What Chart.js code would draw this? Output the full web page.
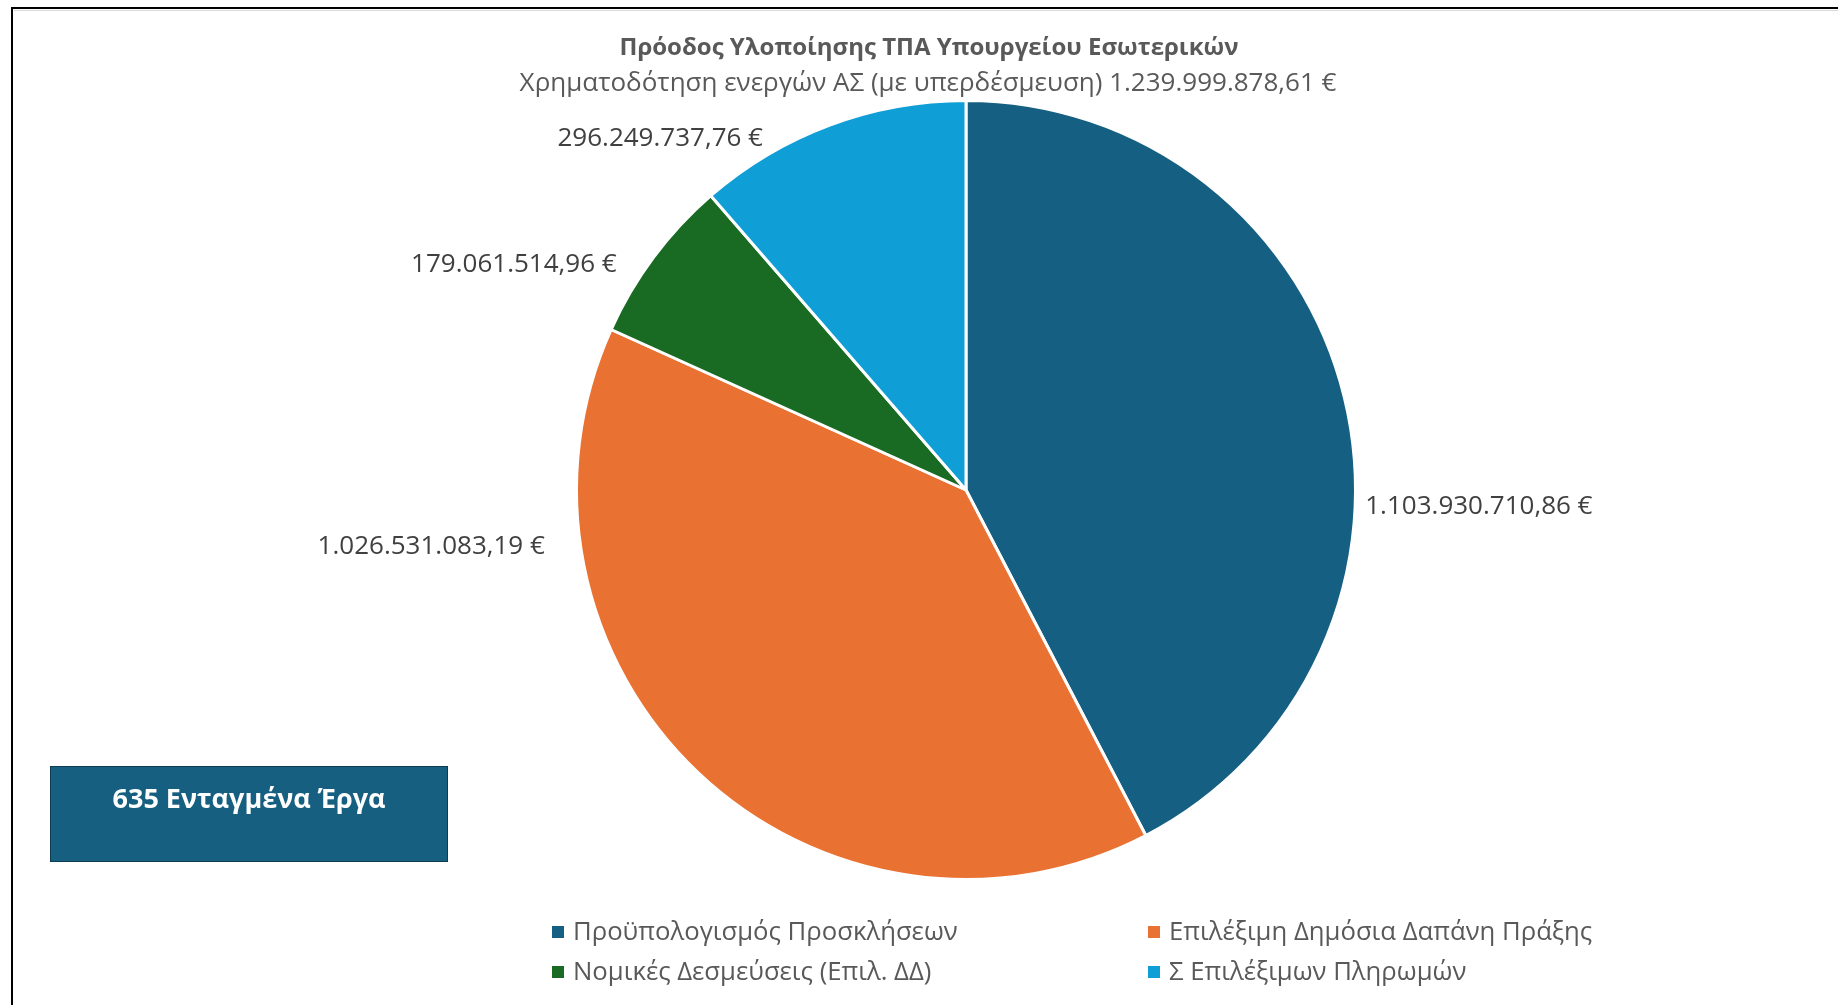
<!DOCTYPE html>
<html>
<head>
<meta charset="utf-8">
<script src="https://cdn.jsdelivr.net/npm/chart.js@4.4.1/dist/chart.umd.min.js"></script>
<style>
  html, body { margin: 0; padding: 0; background: #ffffff; overflow: hidden; }
  #wrap { position: relative; width: 1838px; height: 1005px; }
  canvas { display: block; }
</style>
</head>
<body>
<div id="wrap"><canvas id="c" width="1838" height="1005"></canvas></div>
<script>
// ---- data ----
const categories = [
  'Προϋπολογισμός Προσκλήσεων',
  'Επιλέξιμη Δημόσια Δαπάνη Πράξης',
  'Νομικές Δεσμεύσεις (Επιλ. ΔΔ)',
  'Σ Επιλέξιμων Πληρωμών'
];
const values = [1103930710.86, 1026531083.19, 179061514.96, 296249737.76];
const colors = ['#156082', '#E97132', '#196B24', '#0F9ED5'];
const titleText = 'Πρόοδος Υλοποίησης ΤΠΑ Υπουργείου Εσωτερικών';
const subtitleText = 'Χρηματοδότηση ενεργών ΑΣ (με υπερδέσμευση) 1.239.999.878,61 €';
const boxText = '635 Ενταγμένα Έργα';

function fmtEuro(v) {
  const fixed = v.toFixed(2);
  const parts = fixed.split('.');
  const intPart = parts[0].replace(/\B(?=(\d{3})+(?!\d))/g, '.');
  return intPart + ',' + parts[1] + ' €';
}

const FONT = '"Open Sans", "Noto Sans", sans-serif';

const decor = {
  id: 'decor',
  beforeDraw(chart) {
    const ctx = chart.ctx;
    ctx.save();
    ctx.fillStyle = '#ffffff';
    ctx.fillRect(0, 0, chart.width, chart.height);
    // frame (top + left)
    ctx.strokeStyle = '#000000';
    ctx.lineWidth = 2;
    ctx.beginPath();
    ctx.moveTo(12, chart.height);
    ctx.lineTo(12, 8);
    ctx.lineTo(chart.width, 8);
    ctx.stroke();
    ctx.strokeStyle = '#d9d9d9';
    ctx.lineWidth = 1;
    ctx.beginPath();
    ctx.moveTo(14, 10.5);
    ctx.lineTo(chart.width, 10.5);
    ctx.stroke();
    ctx.restore();
  },
  afterDraw(chart, args, opts) {
    const ctx = chart.ctx;
    ctx.save();
    // title & subtitle
    ctx.textAlign = 'center';
    ctx.textBaseline = 'alphabetic';
    ctx.fillStyle = '#595959';
    ctx.font = 'bold 24px ' + FONT;
    ctx.fillText(titleText, 929, 55);
    ctx.font = '26px ' + FONT;
    ctx.fillText(subtitleText, 928, 91);

    // data labels
    const meta = chart.getDatasetMeta(0);
    ctx.font = '26px ' + FONT;
    ctx.fillStyle = '#404040';
    ctx.textBaseline = 'middle';
    meta.data.forEach((arc, i) => {
      const p = opts.labels[i];
      const th = p.angle * Math.PI / 180;
      const r = arc.outerRadius + p.extra;
      const x = arc.x + r * Math.sin(th);
      const y = arc.y - r * Math.cos(th) + 3;
      ctx.textAlign = p.align;
      ctx.fillText(fmtEuro(chart.data.datasets[0].data[i]), x, y);
    });

    // legend (2x2 grid)
    ctx.font = '25.7px ' + FONT;
    ctx.textAlign = 'left';
    ctx.textBaseline = 'middle';
    categories.forEach((name, i) => {
      const col = i % 2, row = Math.floor(i / 2);
      const bx = opts.legendCols[col];
      const cy = opts.legendRows[row];
      ctx.fillStyle = colors[i];
      ctx.fillRect(bx, cy - 6, 12, 12);
      ctx.fillStyle = '#595959';
      ctx.fillText(name, bx + 21, cy + 1);
    });

    // info box
    ctx.fillStyle = '#175F80';
    ctx.fillRect(50, 766, 398, 96);
    ctx.strokeStyle = '#0E3C52';
    ctx.lineWidth = 1;
    ctx.strokeRect(50.5, 766.5, 397, 95);
    ctx.fillStyle = '#ffffff';
    ctx.font = 'bold 27px ' + FONT;
    ctx.textAlign = 'center';
    ctx.textBaseline = 'middle';
    ctx.fillText(boxText, 249, 800);
    ctx.restore();
  }
};

new Chart(document.getElementById('c'), {
  type: 'pie',
  data: {
    labels: categories,
    datasets: [{
      data: values,
      backgroundColor: colors,
      borderColor: '#ffffff',
      borderWidth: 3
    }]
  },
  options: {
    responsive: false,
    animation: false,
    layout: { padding: { left: 575, right: 481, top: 99, bottom: 124 } },
    plugins: {
      legend: { display: false },
      title: { display: false },
      tooltip: { enabled: false },
      decor: {
        labels: [
          { angle: 92, extra: 10, align: 'left' },
          { angle: 262.8, extra: 35, align: 'right' },
          { angle: 303.2, extra: 28, align: 'right' },
          { angle: 330.2, extra: 19, align: 'right' }
        ],
        legendCols: [552, 1148],
        legendRows: [932, 972]
      }
    }
  },
  plugins: [decor]
});
</script>
</body>
</html>
